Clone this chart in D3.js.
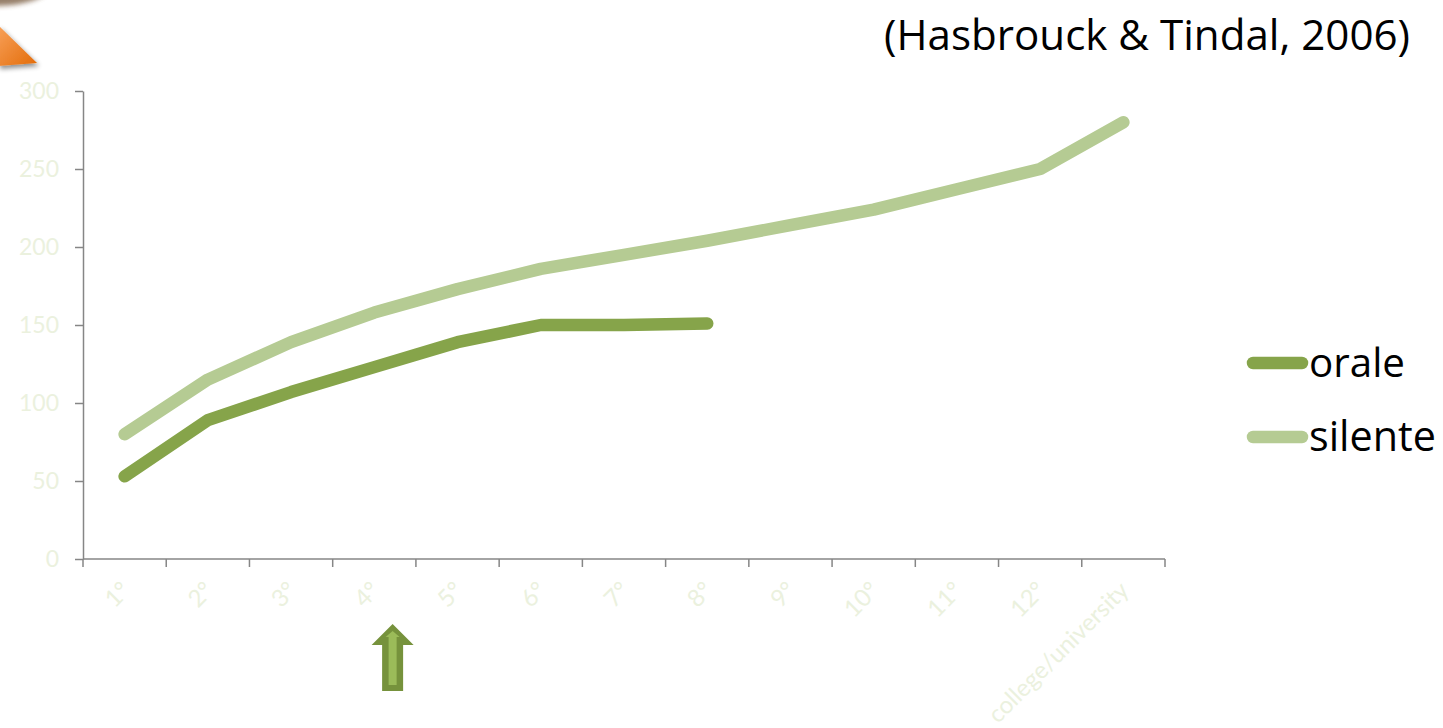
<!DOCTYPE html>
<html>
<head>
<meta charset="utf-8">
<script src="https://cdn.jsdelivr.net/npm/d3@7/dist/d3.min.js"></script>
<style>
  html, body { margin: 0; padding: 0; background: #ffffff; }
  svg { display: block; }
  text { font-family: Lato, "Open Sans", "Liberation Sans", sans-serif; }
  .big { font-family: "Open Sans", Lato, "Liberation Sans", sans-serif; }
</style>
</head>
<body>
<svg id="chart" width="1443" height="728"></svg>
<script>
// Grade levels on the x axis
const categories = ["1°", "2°", "3°", "4°", "5°", "6°", "7°", "8°", "9°", "10°", "11°", "12°", "college/university"];
// Words per minute, oral reading (grades 1–8)
const orale = [53, 89, 107, 123, 139, 150, 150, 151];
// Words per minute, silent reading (all levels)
const silente = [80, 115, 139, 158, 173, 186, 195, 204, 214, 224, 237, 250, 280];
const yTicks = [0, 50, 100, 150, 200, 250, 300];
const seriesNames = ["orale", "silente"];
const seriesColors = ["#86A44A", "#B5CB93"];
const sourceText = "(Hasbrouck & Tindal, 2006)";

const svg = d3.select("#chart");
const plotLeft = 83, plotRight = 1165, plotTop = 91, plotBottom = 559;

const x = d3.scaleBand().domain(categories).range([plotLeft, plotRight]).padding(0);
const y = d3.scaleLinear().domain([0, 300]).range([plotBottom, plotTop]);

const axisColor = "#868686";
const tickTextColor = "#EBF1DE";

// shrink or grow a text element so it spans the given width
function fitWidth(sel, width) {
  const node = sel.node();
  const fs = parseFloat(sel.attr("font-size"));
  const w = node.getComputedTextLength();
  if (w > 0) sel.attr("font-size", (fs * width / w).toFixed(2));
}

// decorative orange corner shape
const defs = svg.append("defs");
const og = defs.append("linearGradient").attr("id", "og").attr("x1", 0).attr("y1", 0).attr("x2", 1).attr("y2", 1);
og.append("stop").attr("offset", "0%").attr("stop-color", "#F8A15A");
og.append("stop").attr("offset", "100%").attr("stop-color", "#E36C09");
const sh = defs.append("filter").attr("id", "sh").attr("x", "-50%").attr("y", "-50%").attr("width", "200%").attr("height", "200%");
sh.append("feGaussianBlur").attr("in", "SourceAlpha").attr("stdDeviation", 2.5);
sh.append("feOffset").attr("dx", 2).attr("dy", 3).attr("result", "ob");
sh.append("feComponentTransfer").append("feFuncA").attr("type", "linear").attr("slope", 0.45);
const mg = sh.append("feMerge");
mg.append("feMergeNode");
mg.append("feMergeNode").attr("in", "SourceGraphic");
const blur = defs.append("filter").attr("id", "bl").attr("x", "-50%").attr("y", "-50%").attr("width", "200%").attr("height", "200%");
blur.append("feGaussianBlur").attr("stdDeviation", 2.5);

svg.append("path")
  .attr("d", "M-10,-6 L46,-6 Q30,6 -10,6 Z")
  .attr("fill", "#6b4a2a").attr("opacity", 0.7).attr("filter", "url(#bl)");
svg.append("path")
  .attr("d", "M-2,25 L37,63 L-2,66 Z")
  .attr("fill", "url(#og)").attr("filter", "url(#sh)");

// y axis
const yAxis = svg.append("g")
  .attr("transform", `translate(${plotLeft},0)`)
  .call(d3.axisLeft(y).tickValues(yTicks).tickSize(8).tickPadding(16).tickSizeOuter(0));
yAxis.select(".domain").attr("stroke", axisColor).attr("stroke-width", 1.5);
yAxis.selectAll(".tick line").attr("stroke", axisColor).attr("stroke-width", 1.5);
yAxis.selectAll(".tick text")
  .attr("fill", tickTextColor).attr("font-size", 23)
  .style("font-family", "Lato, 'Open Sans', sans-serif");

// x axis line with ticks on band boundaries
const xg = svg.append("g");
xg.append("line")
  .attr("x1", plotLeft).attr("x2", plotRight).attr("y1", plotBottom).attr("y2", plotBottom)
  .attr("stroke", axisColor).attr("stroke-width", 1.5);
const edges = d3.range(categories.length + 1).map(i => plotLeft + i * x.step());
xg.selectAll("line.edge").data(edges).join("line")
  .attr("class", "edge")
  .attr("x1", d => d).attr("x2", d => d)
  .attr("y1", plotBottom).attr("y2", plotBottom + 8)
  .attr("stroke", axisColor).attr("stroke-width", 1.5);
xg.selectAll("text.cat").data(categories).join("text")
  .attr("class", "cat")
  .attr("transform", d => `translate(${x(d) + x.bandwidth() / 2 + 1},${plotBottom + 27}) rotate(-45)`)
  .attr("text-anchor", "end")
  .attr("dy", "0.35em")
  .attr("font-size", 24)
  .attr("fill", tickTextColor)
  .text(d => d);

// series lines
const cx = (d, i) => x(categories[i]) + x.bandwidth() / 2;
const line = d3.line().x(cx).y(d => y(d));
[orale, silente].forEach((vals, k) => {
  svg.append("path")
    .datum(vals)
    .attr("d", line)
    .attr("fill", "none")
    .attr("stroke", seriesColors[k])
    .attr("stroke-width", 12.5)
    .attr("stroke-linecap", "round")
    .attr("stroke-linejoin", "round");
});

// legend
const legendRows = [363, 437];
const legendWidths = [96, 127];
seriesNames.forEach((name, k) => {
  const g = svg.append("g").attr("transform", `translate(0,${legendRows[k]})`);
  g.append("line")
    .attr("x1", 1253).attr("x2", 1302).attr("y1", 0).attr("y2", 0)
    .attr("stroke", seriesColors[k]).attr("stroke-width", 12.5)
    .attr("stroke-linecap", "round");
  const t = g.append("text")
    .attr("class", "big")
    .attr("x", 1309).attr("y", 14)
    .attr("font-size", 38)
    .attr("fill", "#000")
    .text(name);
  fitWidth(t, legendWidths[k]);
});

// source note
const src = svg.append("text")
  .attr("class", "big")
  .attr("x", 1410).attr("y", 50)
  .attr("text-anchor", "end")
  .attr("font-size", 38)
  .attr("fill", "#000")
  .text(sourceText);
fitWidth(src, 526);

// upward arrow marker beneath the x axis
const ax = x("4°") + x.bandwidth() * 0.72;
svg.append("path")
  .attr("d", `M${ax - 21},645 L${ax},624 L${ax + 21},645 L${ax + 10.5},645 L${ax + 10.5},691 L${ax - 10.5},691 L${ax - 10.5},645 Z`)
  .attr("fill", "#76923C");
svg.append("path")
  .attr("d", `M${ax - 7},637 L${ax},631 L${ax + 7},637 L${ax + 4},637 L${ax + 4},685 L${ax - 4},685 L${ax - 4},637 Z`)
  .attr("fill", "#9BBB59");
</script>
</body>
</html>
